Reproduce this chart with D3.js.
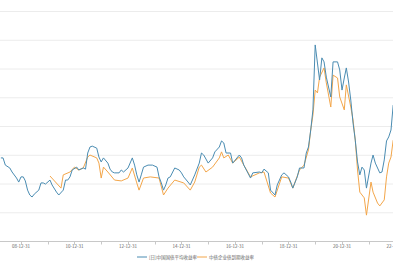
<!DOCTYPE html>
<html>
<head>
<meta charset="utf-8">
<script src="https://cdn.jsdelivr.net/npm/d3@7"></script>
<style>
  body { margin: 0; background: #fff; }
  svg { display: block; font-family: "Noto Sans CJK SC", "DejaVu Sans", sans-serif; }
</style>
</head>
<body>
<div id="chart"></div>
<script>
const width = 393
const height = 267

// series names (legend)
const seriesNames = ["[日]中国国债平均收益率", "中债企业债到期收益率"]
const seriesColors = ["#4a8cb2", "#f3a64a"]

// blue series, month + value
const blueDates = ["2008-03","2008-04","2008-05","2008-07","2008-08","2008-10","2008-11","2008-12","2009-01","2009-02","2009-03","2009-04","2009-05","2009-06","2009-08","2009-09","2009-10","2009-11","2010-01","2010-02","2010-04","2010-05","2010-07","2010-08","2010-09","2010-10","2010-11","2011-01","2011-02","2011-04","2011-05","2011-06","2011-07","2011-08","2011-10","2011-11","2011-12","2012-01","2012-03","2012-04","2012-05","2012-06","2012-08","2012-09","2012-10","2012-12","2013-02","2013-03","2013-04","2013-05","2013-06","2013-07","2013-09","2013-11","2014-01","2014-02","2014-03","2014-04","2014-05","2014-06","2014-07","2014-09","2014-11","2014-12","2015-01","2015-03","2015-04","2015-06","2015-08","2015-09","2015-10","2015-12","2016-02","2016-03","2016-05","2016-06","2016-07","2016-08","2016-10","2016-11","2017-02","2017-03","2017-04","2017-07","2017-08","2017-11","2017-12","2018-01","2018-03","2018-04","2018-06","2018-07","2018-09","2018-10","2018-12","2019-01","2019-02","2019-04","2019-05","2019-07","2019-08","2019-09","2019-10","2019-11","2019-12","2020-01","2020-02","2020-03","2020-04","2020-05","2020-07","2020-08","2020-10","2020-11","2020-12","2021-01","2021-02","2021-03","2021-04","2021-05","2021-06","2021-07","2021-08","2021-09","2021-10","2021-11","2022-01","2022-02","2022-03","2022-05","2022-06","2022-07","2022-08","2022-09","2022-10","2022-11"]
const blueValues = [2.89,2.89,2.64,2.54,2.40,2.19,2.05,2.23,2.23,2.09,1.77,1.60,1.53,1.63,1.77,2.02,2.02,1.98,2.12,1.95,1.70,1.60,1.77,2.12,2.12,2.23,2.47,2.57,2.47,2.54,2.50,3.06,3.27,3.30,3.23,2.92,2.75,2.89,2.71,2.50,2.40,2.37,2.37,2.47,2.40,2.54,2.89,2.64,2.30,2.05,2.30,2.57,2.64,2.64,2.57,2.23,2.02,1.77,1.95,2.19,2.23,2.54,2.47,2.37,2.23,2.05,1.95,2.30,2.71,3.06,2.99,2.71,2.89,3.10,3.27,3.48,3.41,3.06,3.06,2.71,2.99,2.89,2.64,2.19,2.37,2.40,2.37,2.50,2.37,1.77,1.60,1.95,2.30,2.37,2.23,2.05,1.84,2.23,2.54,2.54,3.06,3.27,3.86,4.56,6.82,6.19,5.60,6.37,6.23,5.70,5.01,6.23,6.23,5.95,5.25,5.67,6.02,5.53,4.90,4.10,3.51,2.75,2.30,2.57,2.47,1.84,2.71,2.99,2.71,2.37,2.40,2.82,3.48,3.62,3.86,4.73]

// orange series
const orangeDates = ["2010-01","2010-06","2010-07","2010-10","2010-12","2011-02","2011-04","2011-06","2011-07","2011-10","2011-11","2011-12","2012-01","2012-03","2012-06","2012-09","2012-12","2013-02","2013-04","2013-05","2013-07","2013-10","2014-02","2014-04","2014-06","2014-09","2015-01","2015-04","2015-06","2015-08","2015-09","2015-11","2016-02","2016-05","2016-06","2016-07","2016-09","2016-11","2017-02","2017-04","2017-07","2017-11","2018-01","2018-04","2018-06","2018-09","2018-12","2019-02","2019-05","2019-07","2019-09","2019-10","2019-11","2019-12","2020-01","2020-02","2020-04","2020-05","2020-07","2020-08","2020-10","2020-11","2021-01","2021-02","2021-04","2021-05","2021-06","2021-07","2021-08","2021-10","2021-11","2022-01","2022-02","2022-04","2022-05","2022-07","2022-08","2022-09","2022-10","2022-11"]
const orangeValues = [2.26,1.84,2.30,2.40,2.57,2.47,2.54,2.92,2.99,2.89,2.71,2.19,2.57,2.40,2.12,2.09,2.19,2.54,2.02,1.77,2.19,2.23,2.19,1.60,1.84,2.12,2.02,1.77,2.05,2.57,2.64,2.40,2.57,2.89,3.10,2.89,2.99,2.71,2.92,2.64,2.23,2.37,2.40,1.67,1.53,2.23,2.19,1.84,2.47,2.64,3.17,3.86,4.38,5.25,5.15,5.70,6.02,5.50,4.66,5.77,5.67,5.01,4.56,5.43,4.66,4.21,3.51,2.47,1.70,1.50,0.90,2.05,1.70,1.32,1.22,1.43,2.23,2.71,2.92,3.51]

// x axis labels every two years, minor ticks every year
const labelYears = [2008, 2010, 2012, 2014, 2016, 2018, 2020, 2022]
const tickYears = d3.range(2006, 2024)
const yTicks = [0, 1, 2, 3, 4, 5, 6, 7, 8]

const parseMonth = d3.timeParse("%Y-%m")
// month-end date for each point
const toDate = s => d3.timeDay.offset(d3.timeMonth.offset(parseMonth(s), 1), -1)
const yearEnd = y => new Date(y, 11, 31)

const blue = blueDates.map((d, i) => ({date: toDate(d), value: blueValues[i]}))
const orange = orangeDates.map((d, i) => ({date: toDate(d), value: orangeValues[i]}))

const x = d3.scaleTime()
	.domain([yearEnd(2008), yearEnd(2020)])
	.range([21, 342])

const y = d3.scaleLinear()
	.domain([0, 8])
	.range([241, 11])

const svg = d3.select("#chart")
	.append("svg")
	.attr("width", width)
	.attr("height", height)

// horizontal grid
svg.append("g")
	.selectAll("line")
	.data(yTicks.slice(1))
	.join("line")
		.attr("x1", 0)
		.attr("x2", width)
		.attr("y1", d => y(d) + 0.5)
		.attr("y2", d => y(d) + 0.5)
		.attr("stroke", "#ececec")
		.attr("stroke-width", 1)

// x axis
const xAxis = svg.append("g")
	.attr("transform", `translate(0,${y(0) + 0.5})`)

xAxis.append("line")
	.attr("x1", 0)
	.attr("x2", width)
	.attr("stroke", "#c8c8c8")

xAxis.selectAll("line.tick")
	.data(tickYears)
	.join("line")
		.attr("class", "tick")
		.attr("x1", d => Math.round(x(yearEnd(d))) + 0.5)
		.attr("x2", d => Math.round(x(yearEnd(d))) + 0.5)
		.attr("y1", 0)
		.attr("y2", 3)
		.attr("stroke", "#c8c8c8")

const fmt = d3.timeFormat("%y-%m-%d")
xAxis.selectAll("text")
	.data(labelYears)
	.join("text")
		.attr("x", d => x(yearEnd(d)))
		.attr("y", 6)
		.attr("text-anchor", "middle")
		.attr("font-size", "4.5px")
		.attr("fill", "#666")
		.text(d => fmt(yearEnd(d)))

// lines
svg.append("clipPath")
	.attr("id", "clip")
	.append("rect")
	.attr("x", 0).attr("y", 0)
	.attr("width", width).attr("height", 241)

const line = d3.line()
	.x(d => x(d.date))
	.y(d => y(d.value))

const plot = svg.append("g").attr("clip-path", "url(#clip)")

plot.append("path")
	.datum(orange)
	.attr("d", line)
	.attr("fill", "none")
	.attr("stroke", seriesColors[1])
	.attr("stroke-width", 1)

plot.append("path")
	.datum(blue)
	.attr("d", line)
	.attr("fill", "none")
	.attr("stroke", seriesColors[0])
	.attr("stroke-width", 1)

// legend
const legendX = [137, 197]
const legend = svg.append("g")
	.selectAll("g")
	.data(seriesNames)
	.join("g")
		.attr("transform", (d, i) => `translate(${legendX[i]},257)`)

legend.append("line")
	.attr("x1", 0).attr("x2", 10)
	.attr("stroke", (d, i) => seriesColors[i])
	.attr("stroke-width", 1)

legend.append("text")
	.attr("x", 12)
	.attr("y", 1.6)
	.attr("font-size", "4.5px")
	.attr("fill", "#666")
	.text(d => d)
</script>
</body>
</html>
